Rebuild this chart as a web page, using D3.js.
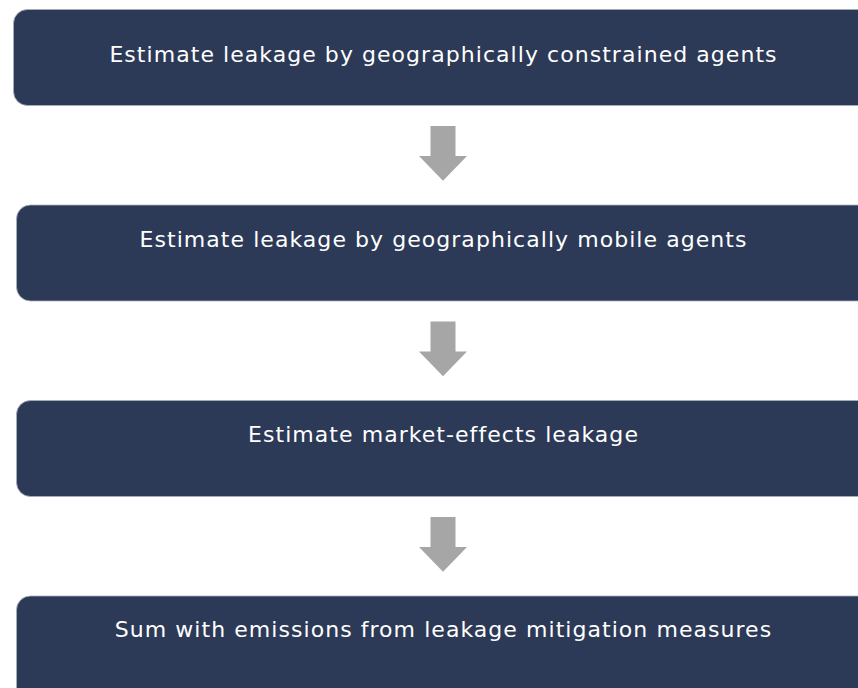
<!DOCTYPE html>
<html>
<head>
<meta charset="utf-8">
<script src="https://cdn.jsdelivr.net/npm/d3@7"></script>
<style>
  html, body { margin: 0; padding: 0; background: #ffffff; }
  svg { display: block; }
</style>
</head>
<body>
<svg id="chart" width="858" height="688"></svg>
<script>
const steps = [
  "Estimate leakage by geographically constrained agents",
  "Estimate leakage by geographically mobile agents",
  "Estimate market-effects leakage",
  "Sum with emissions from leakage mitigation measures"
];
const stepIndex = [0, 1, 2, 3];

const W = 858, H = 688;
const svg = d3.select("#chart");

// vertical placement of each step box (top edge)
const y = d3.scaleLinear().domain([0, 3]).range([9.5, 596]);
const boxH = 96;
const boxLeft = [13.5, 16.5, 16.5, 16.5];
const textOffset = [52, 42, 41, 41];
const cx = 443;

const g = svg.append("g");

g.selectAll("rect.step")
  .data(stepIndex)
  .join("rect")
  .attr("class", "step")
  .attr("x", i => boxLeft[i])
  .attr("y", i => y(i))
  .attr("width", i => W + 40 - boxLeft[i])
  .attr("height", i => i === 3 ? boxH + 40 : boxH)
  .attr("rx", 14)
  .attr("ry", 14)
  .attr("fill", "#2c3a57")
  .attr("stroke", "#a9b0bd")
  .attr("stroke-width", 0.8);

g.selectAll("text.label")
  .data(stepIndex)
  .join("text")
  .attr("class", "label")
  .attr("x", cx + 0.5)
  .attr("y", i => y(i) + textOffset[i])
  .attr("text-anchor", "middle")
  .attr("fill", "#ffffff")
  .style("font-family", "'DejaVu Sans', sans-serif")
  .style("font-size", "22px")
  .style("letter-spacing", "1.05px")
  .text(i => steps[i]);

// arrows between steps
const arrows = [0, 1, 2];
const shaftW = 25, headW = 48, shaftTop = 116.5, headStart = 146.5, tip = 171.2;
g.selectAll("path.arrow")
  .data(arrows)
  .join("path")
  .attr("class", "arrow")
  .attr("d", i => {
    const t = y(i);
    const p = d3.path();
    p.moveTo(cx - shaftW / 2, t + shaftTop);
    p.lineTo(cx + shaftW / 2, t + shaftTop);
    p.lineTo(cx + shaftW / 2, t + headStart);
    p.lineTo(cx + headW / 2, t + headStart);
    p.lineTo(cx, t + tip);
    p.lineTo(cx - headW / 2, t + headStart);
    p.lineTo(cx - shaftW / 2, t + headStart);
    p.closePath();
    return p.toString();
  })
  .attr("fill", "#a6a6a6");
</script>
</body>
</html>
